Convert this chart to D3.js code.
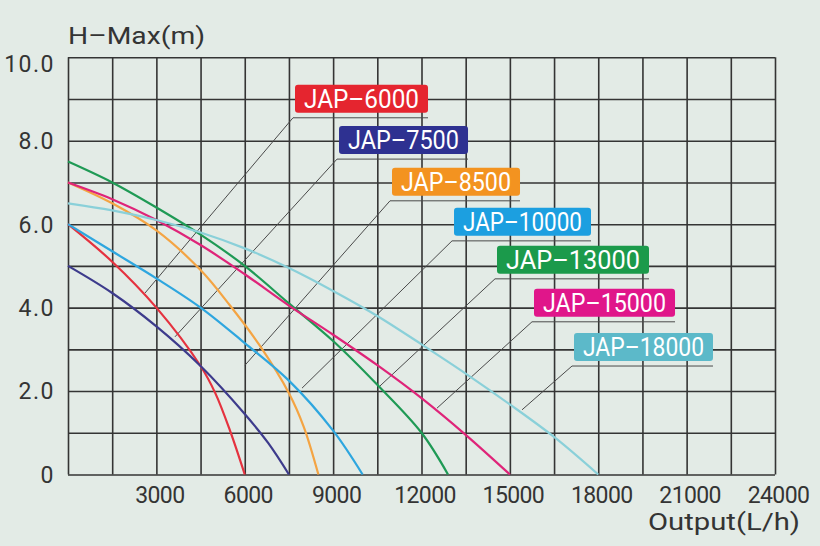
<!DOCTYPE html>
<html>
<head>
<meta charset="utf-8">
<script src="https://cdn.jsdelivr.net/npm/d3@7"></script>
<style>
  body { margin: 0; background: #e3ebe6; }
  svg { display: block; }
</style>
</head>
<body>
<svg id="chart" width="820" height="546"></svg>
<script>
// pump curves: [flow L/h, head m]
const jap6000 = [[0, 6.0], [1500, 5.1], [3000, 4.0], [4500, 2.6], [5000, 1.95], [5500, 1.05], [6000, 0]];
const jap7500 = [[0, 5.0], [1500, 4.35], [3000, 3.55], [4500, 2.6], [6000, 1.45], [6800, 0.75], [7500, 0]];
const jap8500 = [[0, 7.0], [1500, 6.5], [3000, 5.85], [4500, 4.9], [5500, 4.05], [6500, 3.1], [7500, 1.95], [8000, 1.15], [8500, 0]];
const jap10000 = [[0, 6.0], [1500, 5.35], [3000, 4.7], [4500, 4.0], [6000, 3.15], [7500, 2.25], [9000, 1.05], [10000, 0]];
const jap13000 = [[0, 7.5], [1500, 7.0], [3000, 6.4], [4500, 5.75], [6000, 5.0], [7500, 4.1], [9000, 3.2], [10500, 2.15], [12000, 1.0], [12900, 0]];
const jap15000 = [[0, 7.0], [1500, 6.6], [3000, 6.1], [4500, 5.5], [6000, 4.8], [7500, 4.05], [9000, 3.35], [10500, 2.62], [12000, 1.83], [13500, 0.95], [15000, 0]];
const jap18000 = [[0, 6.5], [1500, 6.33], [3000, 6.1], [4500, 5.8], [6000, 5.42], [7500, 4.95], [9000, 4.4], [10500, 3.8], [12000, 3.12], [13500, 2.42], [15000, 1.68], [16500, 0.9], [18000, 0]];

const models = ["JAP–6000", "JAP–7500", "JAP–8500", "JAP–10000", "JAP–13000", "JAP–15000", "JAP–18000"];
const curves = [jap6000, jap7500, jap8500, jap10000, jap13000, jap15000, jap18000];

const flowGrid = [0, 1500, 3000, 4500, 6000, 7500, 9000, 10500, 12000, 13500, 15000, 16500, 18000, 19500, 21000, 22500, 24000];
const flowLabels = [3000, 6000, 9000, 12000, 15000, 18000, 21000, 24000];
const headGrid = [0, 1, 2, 3, 4, 5, 6, 7, 8, 9, 10];
const headLabels = [0, 2, 4, 6, 8, 10];

const lineColors = ["#e5323f", "#3d3b8c", "#f4a443", "#2ea6df", "#1f9a55", "#df2479", "#8ad0d9"];
const boxColors = ["#e5252f", "#2e3191", "#f39320", "#1c9fe0", "#1b9a4b", "#e0168a", "#5cb9c9"];

// callout layout in chart units: leader tail, corner (flow, head), right end of underline
const callouts = [
  { tail: [2614, 4.35], corner: [7638, 8.55], right: 12221 },
  { tail: [3632, 3.30], corner: [9132, 7.56], right: 13579 },
  { tail: [6009, 2.62], corner: [10931, 6.56], right: 15344 },
  { tail: [7944, 2.07], corner: [13036, 5.60], right: 17754 },
  { tail: [10557, 2.10], corner: [14495, 4.69], right: 19723 },
  { tail: [12526, 1.59], corner: [15751, 3.66], right: 20606 },
  { tail: [15412, 1.55], corner: [17109, 2.60], right: 21895 }
];

const svg = d3.select("#chart");
const width = 820, height = 546;
const margin = { top: 57.3, right: 45, bottom: 71.5, left: 68 };
const innerW = width - margin.left - margin.right;
const innerH = height - margin.top - margin.bottom;
const font = "Roboto, 'Noto Sans', sans-serif";
const ink = "#343434";

const x = d3.scaleLinear().domain([0, 24000]).range([margin.left, width - margin.right]);
const y = d3.scaleLinear().domain([0, 10]).range([height - margin.bottom, margin.top]);

svg.append("rect").attr("width", width).attr("height", height).attr("fill", "#e3ebe6");

// grid
svg.append("g")
  .attr("transform", `translate(0,${height - margin.bottom})`)
  .call(d3.axisBottom(x).tickValues(flowGrid).tickSize(-innerH).tickFormat(""))
  .call(g => g.select(".domain").remove())
  .call(g => g.selectAll("line").attr("stroke", ink).attr("stroke-width", 1.6));

svg.append("g")
  .attr("transform", `translate(${margin.left},0)`)
  .call(d3.axisLeft(y).tickValues(headGrid).tickSize(-innerW).tickFormat(""))
  .call(g => g.select(".domain").remove())
  .call(g => g.selectAll("line").attr("stroke", ink).attr("stroke-width", 1.6));

// tick labels
svg.append("g")
  .attr("transform", `translate(3,${height - margin.bottom})`)
  .call(d3.axisBottom(x).tickValues(flowLabels).tickSize(0).tickPadding(12).tickFormat(d3.format("d")))
  .call(g => g.select(".domain").remove())
  .call(g => g.selectAll("text")
    .attr("fill", ink).attr("font-family", font).attr("font-size", 23)
    .attr("letter-spacing", "-0.6px"));

svg.append("g")
  .attr("transform", `translate(${margin.left - 2},0)`)
  .call(d3.axisLeft(y).tickValues(headLabels).tickSize(0).tickPadding(11)
    .tickFormat(d => d === 0 ? "0" : d.toFixed(1)))
  .call(g => g.select(".domain").remove())
  .call(g => g.selectAll("text")
    .attr("fill", ink).attr("font-family", font).attr("font-size", 23)
    .attr("letter-spacing", "1.5px")
    .attr("dy", d => d === 10 ? "0.6em" : "0.34em"));

// axis titles
svg.append("text")
  .attr("x", 68).attr("y", 44)
  .attr("font-family", font).attr("font-size", 24).attr("fill", ink)
  .attr("textLength", 137).attr("lengthAdjust", "spacingAndGlyphs")
  .text("H–Max(m)");

svg.append("text")
  .attr("x", 800).attr("y", 530).attr("text-anchor", "end")
  .attr("font-family", font).attr("font-size", 24).attr("fill", ink)
  .attr("textLength", 152).attr("lengthAdjust", "spacingAndGlyphs")
  .text("Output(L/h)");

// leader lines and underlines
const leaders = svg.append("g").attr("fill", "none").attr("stroke", "#4a4a4a").attr("stroke-width", 1);
callouts.forEach(c => {
  leaders.append("polyline")
    .attr("points", [
      [x(c.tail[0]), y(c.tail[1])],
      [x(c.corner[0]), y(c.corner[1])],
      [x(c.right), y(c.corner[1])]
    ].map(p => p.join(",")).join(" "));
});

// curves
const line = d3.line()
  .x(d => x(d[0]))
  .y(d => y(d[1]))
  .curve(d3.curveCatmullRom.alpha(0.5));

svg.append("g")
  .selectAll("path")
  .data(curves)
  .join("path")
  .attr("d", line)
  .attr("fill", "none")
  .attr("stroke", (d, i) => lineColors[i])
  .attr("stroke-width", 2.2);

// label boxes
const labels = svg.append("g")
  .selectAll("g")
  .data(callouts)
  .join("g");

labels.append("rect")
  .attr("x", d => x(d.corner[0]) + 2)
  .attr("y", d => y(d.corner[1]) - 33)
  .attr("width", d => x(d.right) - x(d.corner[0]) - 2)
  .attr("height", 28)
  .attr("rx", 3)
  .attr("fill", (d, i) => boxColors[i]);

labels.append("text")
  .attr("x", d => (x(d.corner[0]) + 2 + x(d.right)) / 2)
  .attr("y", d => y(d.corner[1]) - 10)
  .attr("text-anchor", "middle")
  .attr("font-family", font)
  .attr("font-size", 25)
  .attr("fill", "#ffffff")
  .attr("textLength", d => x(d.right) - x(d.corner[0]) - 20)
  .attr("lengthAdjust", "spacingAndGlyphs")
  .text((d, i) => models[i]);
</script>
</body>
</html>
